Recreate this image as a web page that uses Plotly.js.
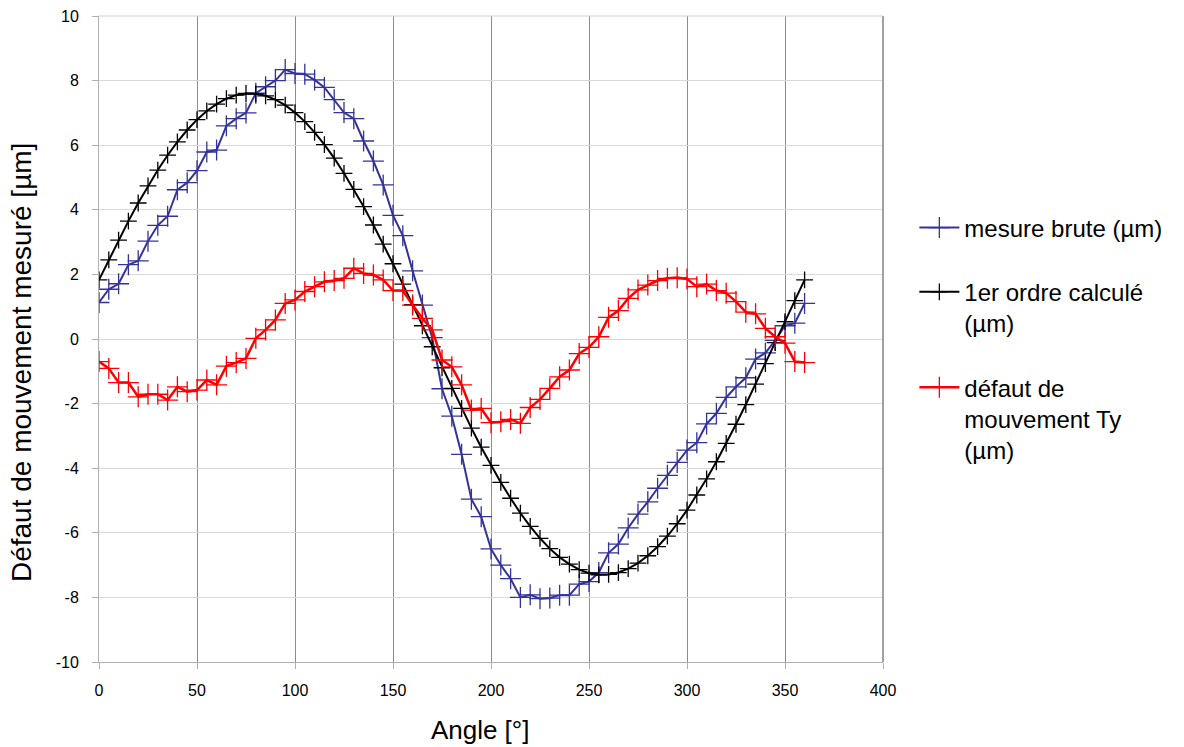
<!DOCTYPE html>
<html>
<head>
<meta charset="utf-8">
<script src="https://cdn.plot.ly/plotly-3.0.1.min.js"></script>
<style>html,body{margin:0;padding:0;background:#fff;}#chart{width:1184px;height:747px;}</style>
</head>
<body>
<div id="chart"></div>
<script>
const angles = [0,5,10,15,20,25,30,35,40,45,50,55,60,65,70,75,80,85,90,95,100,105,110,115,120,125,130,135,140,145,150,155,160,165,170,175,180,185,190,195,200,205,210,215,220,225,230,235,240,245,250,255,260,265,270,275,280,285,290,295,300,305,310,315,320,325,330,335,340,345,350,355,360];

const mesureBrute = [1.13,1.54,1.71,2.30,2.42,3.03,3.52,3.80,4.62,4.84,5.21,5.79,5.85,6.60,6.82,7.00,7.61,7.81,8.00,8.34,8.22,8.20,8.02,7.79,7.41,7.01,6.82,6.13,5.51,4.77,3.83,3.20,2.11,1.05,0.04,-1.54,-2.39,-3.57,-4.96,-5.50,-6.50,-7.00,-7.42,-8.00,-7.92,-8.04,-8.02,-7.93,-7.93,-7.59,-7.51,-7.23,-6.62,-6.35,-5.85,-5.42,-5.04,-4.62,-4.22,-3.82,-3.44,-3.21,-2.63,-2.30,-1.81,-1.48,-1.20,-0.62,-0.43,-0.04,0.41,0.49,1.10];

const premierOrdre = [1.83,2.45,3.06,3.65,4.21,4.74,5.23,5.69,6.10,6.47,6.79,7.06,7.27,7.44,7.55,7.60,7.59,7.53,7.41,7.24,7.01,6.73,6.40,6.02,5.60,5.13,4.63,4.10,3.53,2.94,2.33,1.70,1.06,0.41,-0.24,-0.89,-1.53,-2.15,-2.76,-3.35,-3.91,-4.44,-4.93,-5.39,-5.80,-6.17,-6.49,-6.76,-6.97,-7.14,-7.25,-7.30,-7.29,-7.23,-7.11,-6.94,-6.71,-6.43,-6.10,-5.72,-5.30,-4.83,-4.33,-3.80,-3.23,-2.64,-2.03,-1.40,-0.76,-0.11,0.54,1.19,1.83];

const defautTy = [-0.70,-0.91,-1.35,-1.35,-1.79,-1.71,-1.71,-1.89,-1.48,-1.63,-1.58,-1.27,-1.42,-0.84,-0.73,-0.60,0.02,0.28,0.59,1.10,1.21,1.47,1.62,1.77,1.81,1.88,2.19,2.03,1.98,1.83,1.50,1.50,1.05,0.64,0.28,-0.65,-0.86,-1.42,-2.20,-2.15,-2.59,-2.56,-2.49,-2.61,-2.12,-1.87,-1.53,-1.17,-0.96,-0.45,-0.26,0.07,0.67,0.88,1.26,1.52,1.67,1.81,1.88,1.90,1.86,1.62,1.70,1.50,1.42,1.16,0.83,0.78,0.33,0.07,-0.13,-0.70,-0.73];

const seriesNames = ['mesure brute (µm)', '1er ordre calculé<br>(µm)', 'défaut de<br>mouvement Ty<br>(µm)'];
const xTicks = [0,50,100,150,200,250,300,350,400];
const yTicks = [-10,-8,-6,-4,-2,0,2,4,6,8,10];

const traces = [
  {x: angles, y: mesureBrute, name: seriesNames[0], legendgroup: 'g1', type: 'scatter', mode: 'lines+markers',
   line: {color: '#333399', width: 2},
   marker: {symbol: 'cross-thin-open', size: 15, line: {color: '#4a4aa8', width: 1.3}}},
  {x: angles, y: premierOrdre, name: seriesNames[1], legendgroup: 'g2', type: 'scatter', mode: 'lines+markers',
   line: {color: '#000000', width: 2},
   marker: {symbol: 'cross-thin-open', size: 12, line: {color: '#000000', width: 1.3}}},
  {x: angles, y: defautTy, name: seriesNames[2], legendgroup: 'g3', type: 'scatter', mode: 'lines+markers',
   line: {color: '#ff0000', width: 2.5},
   marker: {symbol: 'cross-thin-open', size: 15, line: {color: '#ff2020', width: 1.3}}}
];

const layout = {
  width: 1184, height: 747,
  margin: {l: 99, r: 301, t: 16, b: 85},
  paper_bgcolor: '#ffffff', plot_bgcolor: '#ffffff',
  font: {family: '"Liberation Sans", Arial, sans-serif', color: '#000'},
  showlegend: true,
  legend: {x: 1.04, xanchor: 'left', y: 0.5, yanchor: 'middle', valign: 'top',
           font: {size: 24, family: '"Liberation Sans", Arial, sans-serif'},
           tracegroupgap: 30, itemwidth: 40, bgcolor: 'rgba(0,0,0,0)'},
  xaxis: {range: [0, 400], tickvals: xTicks, ticktext: xTicks.map(String),
          showgrid: true, gridcolor: '#8c8c8c', gridwidth: 1,
          showline: true, linecolor: '#b0b0b0', linewidth: 1, mirror: false,
          ticks: 'outside', ticklen: 6, tickcolor: '#b0b0b0', ticklabelstandoff: 8,
          zeroline: false, tickfont: {size: 16},
          title: {text: 'Angle [°]&nbsp;&nbsp;&nbsp;', font: {size: 26}, standoff: 22}},
  yaxis: {range: [-10, 10], tickvals: yTicks, ticktext: yTicks.map(String),
          showgrid: true, gridcolor: '#d9d9d9', gridwidth: 1,
          showline: true, linecolor: '#b0b0b0', linewidth: 1,
          ticks: 'outside', ticklen: 6, tickcolor: '#b0b0b0', ticklabelstandoff: 10,
          zeroline: false, tickfont: {size: 16},
          title: {text: 'Défaut de mouvement mesuré [µm]&nbsp;&nbsp;&nbsp;&nbsp;&nbsp;&nbsp;', font: {size: 28}, standoff: 15}},
  shapes: [
    {type: 'line', xref: 'paper', yref: 'paper', x0: 1, x1: 1, y0: 0, y1: 1,
     line: {color: '#a0a0a0', width: 2}},
    {type: 'line', xref: 'paper', yref: 'paper', x0: 0, x1: 1, y0: 1, y1: 1,
     line: {color: '#d0d0d0', width: 1}}
  ]
};

Plotly.newPlot('chart', traces, layout, {displayModeBar: false, staticPlot: true});
</script>
</body>
</html>
